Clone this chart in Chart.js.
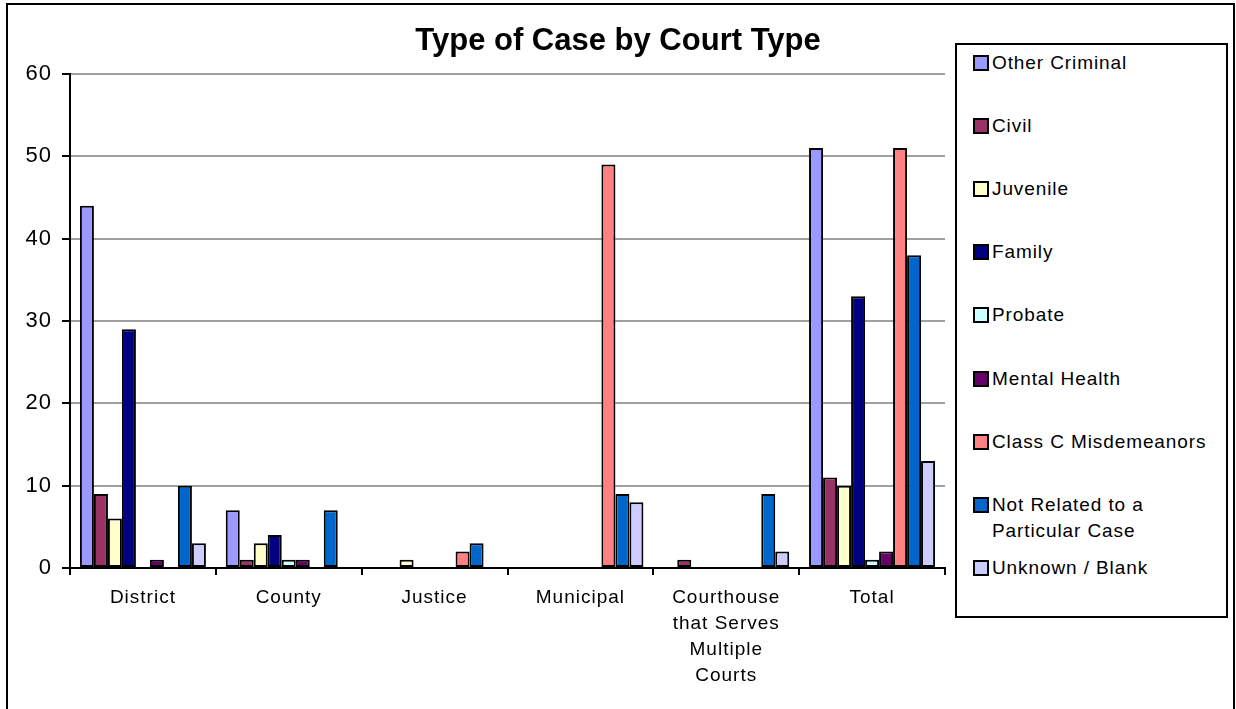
<!DOCTYPE html>
<html>
<head>
<meta charset="utf-8">
<title>Type of Case by Court Type</title>
<script src="https://cdn.jsdelivr.net/npm/chart.js@4.4.1/dist/chart.umd.min.js"></script>
<style>
  body {
    margin: 0;
    background: #fff;
    font-family: Arial, "Liberation Sans", sans-serif;
  }
  #frame {
    position: absolute;
    left: 6px;
    top: 3px;
    width: 1225px;
    height: 705px;
    border: 2px solid #000;
  }
  #chartCanvas {
    position: absolute;
    left: 0;
    top: 0;
  }
  #legendBox {
    position: absolute;
    left: 955px;
    top: 43px;
    width: 269px;
    height: 571px;
    border: 2px solid #000;
    background: #fff;
  }
  .legend-item {
    position: absolute;
    left: 16px;
    display: flex;
    align-items: flex-start;
    font-size: 19px;
    line-height: 26px;
    letter-spacing: 0.9px;
    color: #000;
    white-space: pre-line;
  }
  .legend-swatch {
    width: 12px;
    height: 12px;
    border: 2px solid #000;
    margin-top: 5px;
    margin-right: 3px;
    flex: none;
  }
</style>
</head>
<body>
<div id="frame"></div>
<canvas id="chartCanvas" width="1236" height="709"></canvas>
<div id="legendBox"></div>

<script>
const chartTitle = "Type of Case by Court Type";

// Court types along the x axis (the long one is split over lines)
const courtTypes = [
  "District",
  "County",
  "Justice",
  "Municipal",
  ["Courthouse", "that Serves", "Multiple", "Courts"],
  "Total",
];

// Case counts, one array per type of case
const otherCriminal = [44, 7, 0, 0, 0, 51];
const civil = [9, 1, 0, 0, 1, 11];
const juvenile = [6, 3, 1, 0, 0, 10];
const family = [29, 4, 0, 0, 0, 33];
const probate = [0, 1, 0, 0, 0, 1];
const mentalHealth = [1, 1, 0, 0, 0, 2];
const classC = [0, 0, 2, 49, 0, 51];
const notRelated = [10, 7, 3, 9, 9, 38];
const unknownBlank = [3, 0, 0, 8, 2, 13];

const seriesNames = [
  "Other Criminal",
  "Civil",
  "Juvenile",
  "Family",
  "Probate",
  "Mental Health",
  "Class C Misdemeanors",
  "Not Related to a\nParticular Case",
  "Unknown / Blank",
];
const seriesValues = [
  otherCriminal,
  civil,
  juvenile,
  family,
  probate,
  mentalHealth,
  classC,
  notRelated,
  unknownBlank,
];
const seriesColors = [
  "#9999FF",
  "#993366",
  "#FFFFCC",
  "#000080",
  "#CCFFFF",
  "#660066",
  "#FF8080",
  "#0066CC",
  "#CCCCFF",
];

const yTicks = [0, 10, 20, 30, 40, 50, 60];

const FONT = 'Arial, "Liberation Sans", sans-serif';

function buildLegend() {
  const box = document.getElementById("legendBox");
  seriesNames.forEach((name, i) => {
    const item = document.createElement("div");
    item.className = "legend-item";
    // first line centres sit about 63px apart
    item.style.top = 63 + i * 63.1 - 13 - 45 + "px";

    const swatch = document.createElement("span");
    swatch.className = "legend-swatch";
    swatch.style.background = seriesColors[i];

    const label = document.createElement("span");
    label.textContent = name;

    item.appendChild(swatch);
    item.appendChild(label);
    box.appendChild(item);
  });
}

// Title is centred on the whole picture, not on the plot area
const titlePlugin = {
  id: "centredTitle",
  beforeDraw(chart) {
    chart.ctx.letterSpacing = "1px";
  },
  afterDraw(chart) {
    const ctx = chart.ctx;
    ctx.save();
    ctx.letterSpacing = "0px";
    ctx.font = "bold 31px " + FONT;
    ctx.fillStyle = "#000";
    ctx.textAlign = "center";
    ctx.textBaseline = "alphabetic";
    ctx.fillText(chartTitle, 618, 50);
    ctx.restore();
  },
};

function drawChart() {
  const ctx = document.getElementById("chartCanvas").getContext("2d");

  new Chart(ctx, {
    type: "bar",
    data: {
      labels: courtTypes,
      datasets: seriesNames.map((name, i) => ({
        label: name,
        data: seriesValues[i],
        backgroundColor: seriesColors[i],
        borderColor: "#000",
        borderWidth: 2,
        borderSkipped: false,
        barPercentage: 1,
        categoryPercentage: 0.864,
      })),
    },
    options: {
      responsive: false,
      animation: false,
      layout: {
        padding: { left: 0, right: 291, top: 74, bottom: 0 },
      },
      plugins: {
        legend: { display: false },
        title: { display: false },
        tooltip: { enabled: false },
      },
      scales: {
        x: {
          afterFit: (scale) => {
            scale.height = 141;
          },
          grid: {
            drawOnChartArea: false,
            drawTicks: true,
            tickLength: 7,
            tickWidth: 2,
            tickColor: "#000",
            lineWidth: 2,
          },
          border: { display: true, color: "#000", width: 2 },
          ticks: {
            color: "#000",
            autoSkip: false,
            maxRotation: 0,
            padding: 10,
            font: { family: FONT, size: 19, lineHeight: 1.37 },
          },
        },
        y: {
          min: 0,
          max: 60,
          afterFit: (scale) => {
            scale.width = 70;
          },
          afterBuildTicks: (scale) => {
            scale.ticks = yTicks.map((v) => ({ value: v }));
          },
          grid: {
            color: (c) => (c.tick && c.tick.value === 0 ? "#000" : "#A0A0A0"),
            lineWidth: 2,
            drawTicks: true,
            tickLength: 8,
            tickColor: "#000",
            tickWidth: 2,
          },
          border: { display: true, color: "#000", width: 2 },
          ticks: {
            color: "#000",
            padding: 10,
            font: { family: FONT, size: 22 },
          },
        },
      },
    },
    plugins: [titlePlugin],
  });
}

document.addEventListener("DOMContentLoaded", () => {
  buildLegend();
  drawChart();
});
</script>
</body>
</html>
